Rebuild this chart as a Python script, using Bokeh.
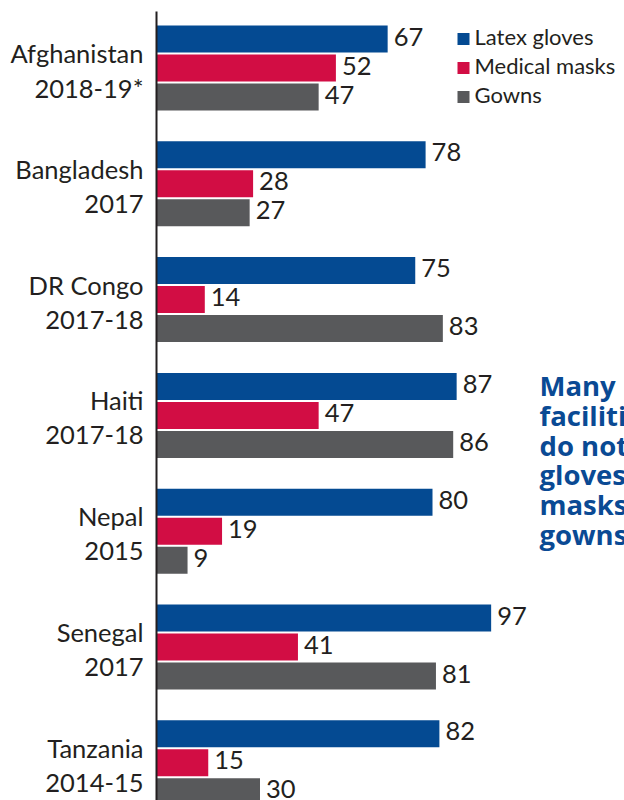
from bokeh.plotting import figure
from bokeh.models import Range1d
from bokeh.core.properties import value
from bokeh.embed import file_html
from bokeh.resources import INLINE

# ---- data ----
countries = ["Afghanistan", "Bangladesh", "DR Congo", "Haiti", "Nepal", "Senegal", "Tanzania"]
years = ["2018-19*", "2017", "2017-18", "2017-18", "2015", "2017", "2014-15"]
series_names = ["Latex gloves", "Medical masks", "Gowns"]
latex_gloves = [67, 78, 75, 87, 80, 97, 82]
medical_masks = [52, 28, 14, 47, 19, 41, 15]
gowns = [47, 27, 83, 86, 9, 81, 30]
note_lines = ["Many", "facilities", "do not have", "gloves,", "masks or", "gowns"]

# ---- layout / style ----
W, H = 624, 800
PX_PER_UNIT = 3.45
AXIS_PX = 156
PITCH = 115.8          # px between groups
G0 = 67.5              # px centre of first group
BAR_STEP = 29.0        # px between bars in group
BAR_H = 27.0
colors = ["#044a92", "#d20d44", "#58595b"]
text_col = "#231f20"
note_col = "#0a4a94"
FONT = "Lato"

def ux(px):  # pixel distance -> data units (x)
    return px / PX_PER_UNIT

def uy(px):  # pixel distance -> data units (y)
    return px / PITCH

x_start = -ux(AXIS_PX)
x_end = ux(W - AXIS_PX)
y_top = uy(0 - G0)
y_bot = uy(H - G0)

p = figure(width=W, height=H, output_backend="svg", toolbar_location=None,
           x_axis_type=None, y_axis_type=None,
           x_range=Range1d(x_start, x_end), y_range=Range1d(y_bot, y_top),
           min_border_left=0, min_border_right=0, min_border_top=0, min_border_bottom=0,
           background_fill_color="white", border_fill_color="white")
p.outline_line_color = None
p.grid.visible = False

series = [latex_gloves, medical_masks, gowns]
offsets = [-uy(BAR_STEP), 0.0, uy(BAR_STEP)]
idx = list(range(len(countries)))

for vals, off, col in zip(series, offsets, colors):
    ys = [i + off for i in idx]
    p.hbar(y=ys, left=0, right=vals, height=uy(BAR_H), fill_color=col, line_color=None)
    p.text(x=[v + ux(6) for v in vals], y=[yy - uy(2.5) for yy in ys],
           text=[str(v) for v in vals],
           text_font=value(FONT), text_font_size="25.5px", text_color=text_col,
           text_align="left", text_baseline="middle")

# axis line
p.segment(x0=[0], y0=[uy(11 - G0)], x1=[0], y1=[y_bot], line_color=text_col, line_width=2)

# category labels
p.text(x=[-ux(13)] * len(countries), y=[i - uy(15) for i in idx], text=countries,
       text_font=value(FONT), text_font_size="25.5px", text_color=text_col,
       text_align="right", text_baseline="middle")
p.text(x=[-ux(13)] * len(years), y=[i + uy(20) for i in idx], text=years,
       text_font=value(FONT), text_font_size="25.5px", text_color=text_col,
       text_align="right", text_baseline="middle")

# legend
leg_x = ux(463 - AXIS_PX)
p.rect(x=[leg_x] * 3, y=offsets, width=12, height=12, width_units="screen",
       height_units="screen", fill_color=colors, line_color=None)
p.text(x=[ux(474 - AXIS_PX)] * 3, y=[o - uy(2.5) for o in offsets], text=series_names,
       text_font=value(FONT), text_font_size="22px", text_color=text_col,
       text_align="left", text_baseline="middle")

# side note
p.text(x=[ux(539 - AXIS_PX)] * len(note_lines),
       y=[uy(385 - G0 + 29.8 * k) for k in range(len(note_lines))],
       text=note_lines, text_font=value("Open Sans"), text_font_size="27.5px",
       text_font_style="bold", text_color=note_col,
       text_align="left", text_baseline="alphabetic")

open("out.html", "w").write(file_html(p, INLINE))
